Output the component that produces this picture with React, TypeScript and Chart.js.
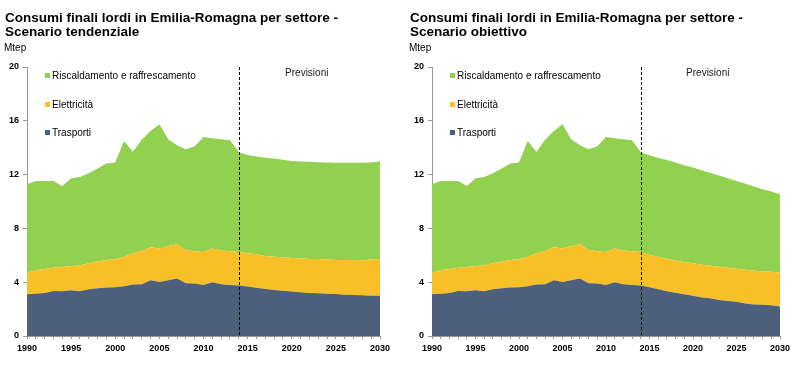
import React, { useEffect, useRef } from "react";
import { Chart, registerables } from "chart.js";

Chart.register(...registerables);

// ---------- DATA ----------
const histYears = [
  1990, 1991, 1992, 1993, 1994, 1995, 1996, 1997, 1998, 1999, 2000, 2001, 2002,
  2003, 2004, 2005, 2006, 2007, 2008, 2009, 2010, 2011, 2012, 2013, 2014,
];
const forecastYears = [
  2015, 2016, 2017, 2018, 2019, 2020, 2021, 2022, 2023, 2024, 2025, 2026, 2027,
  2028, 2029, 2030,
];

// Historical (Mtep)
const histTrasporti = [
  3.1, 3.15, 3.2, 3.35, 3.32, 3.4, 3.32, 3.47, 3.55, 3.6, 3.62, 3.7, 3.82, 3.85,
  4.14, 4.02, 4.14, 4.27, 3.93, 3.9, 3.8, 4.0, 3.85, 3.8, 3.75,
];
const histElettricita = [
  1.61, 1.73, 1.78, 1.73, 1.81, 1.8, 1.93, 1.93, 1.98, 2.05, 2.08, 2.2, 2.33,
  2.47, 2.46, 2.48, 2.56, 2.55, 2.47, 2.4, 2.45, 2.5, 2.5, 2.5, 2.5,
];
const histRiscaldamento = [
  6.57, 6.64, 6.54, 6.44, 6.02, 6.52, 6.57, 6.7, 6.92, 7.17, 7.2, 8.6, 7.55,
  8.28, 8.64, 9.24, 7.92, 7.36, 7.48, 7.8, 8.55, 8.2, 8.27, 8.25, 7.41,
];

// Scenario tendenziale (forecast)
const tendTrasporti = [
  3.68, 3.58, 3.5, 3.42, 3.37, 3.3, 3.25, 3.2, 3.18, 3.15, 3.12, 3.07, 3.05,
  3.03, 3.0, 3.0,
];
const tendElettricita = [
  2.47, 2.5, 2.45, 2.48, 2.48, 2.5, 2.53, 2.53, 2.55, 2.55, 2.53, 2.58, 2.6,
  2.6, 2.68, 2.72,
];
const tendRiscaldamento = [
  7.31, 7.26, 7.3, 7.29, 7.25, 7.21, 7.2, 7.22, 7.19, 7.2, 7.24, 7.23, 7.23,
  7.25, 7.22, 7.25,
];

// Scenario obiettivo (forecast)
const objTrasporti = [
  3.62, 3.47, 3.32, 3.22, 3.1, 3.0, 2.86, 2.8, 2.68, 2.6, 2.55, 2.42, 2.35,
  2.32, 2.28, 2.2,
];
const objElettricita = [
  2.4, 2.43, 2.43, 2.38, 2.4, 2.4, 2.44, 2.42, 2.47, 2.47, 2.45, 2.5, 2.52,
  2.48, 2.5, 2.5,
];
const objRiscaldamento = [
  7.41, 7.34, 7.33, 7.3, 7.2, 7.12, 7.03, 6.9, 6.78, 6.65, 6.52, 6.42, 6.25,
  6.12, 5.96, 5.83,
];

const seriesNames = ["Trasporti", "Elettricità", "Riscaldamento e raffrescamento"];
const seriesColors = ["#4C5F7B", "#F8C026", "#92D050"];
const xLabelYears = [1990, 1995, 2000, 2005, 2010, 2015, 2020, 2025, 2030];
const yTickValues = [0, 4, 8, 12, 16, 20];
const forecastStartYear = 2014;
const forecastLabel = "Previsioni";
const unitLabel = "Mtep";
const titleLine1 = "Consumi finali lordi in Emilia-Romagna per settore -";
const titleTendenziale = "Scenario tendenziale";
const titleObiettivo = "Scenario obiettivo";

// ---------- CHART ----------
const FONT = '"Liberation Sans", Arial, sans-serif';

const overlayPlugin = {
  id: "overlay",
  afterDatasetsDraw(chart: any) {
    const { ctx, chartArea, scales } = chart;
    const x = Math.round(scales.x.getPixelForValue(forecastStartYear)) + 0.5;
    ctx.save();
    ctx.strokeStyle = "#000";
    ctx.lineWidth = 1;
    ctx.setLineDash([3, 2]);
    ctx.beginPath();
    ctx.moveTo(x, chartArea.top);
    ctx.lineTo(x, chartArea.bottom);
    ctx.stroke();
    ctx.setLineDash([]);

    ctx.font = `10px ${FONT}`;
    ctx.fillStyle = "#1a1a1a";
    ctx.textAlign = "center";
    ctx.textBaseline = "middle";
    ctx.fillText(forecastLabel, (x + chartArea.right) / 2 - 3, chartArea.top + 6);

    // legend (reverse order: top item is last dataset)
    const offsets = [66, 38, 9];
    ctx.textAlign = "left";
    ctx.fillStyle = "#000";
    chart.data.datasets.forEach((ds: any, i: number) => {
      const cy = chartArea.top + offsets[i];
      const sx = chartArea.left + 18;
      ctx.fillStyle = ds.backgroundColor;
      ctx.fillRect(sx, cy - 3, 5, 5);
      ctx.fillStyle = "#000";
      ctx.fillText(ds.label, sx + 7, cy);
    });
    ctx.restore();
  },
};

function buildDatasets(fT: number[], fE: number[], fR: number[]) {
  const years = [...histYears, ...forecastYears];
  const T = [...histTrasporti, ...fT];
  const E = [...histElettricita, ...fE];
  const R = [...histRiscaldamento, ...fR];
  const vals = [T, E, R];
  return vals.map((v, i) => ({
    label: seriesNames[i],
    data: years.map((yr, k) => ({ x: yr, y: v[k] })),
    backgroundColor: seriesColors[i],
    borderColor: seriesColors[i],
    borderWidth: 0,
    pointRadius: 0,
    tension: 0,
    fill: i === 0 ? "origin" : "-1",
  }));
}

function ChartPanel(props: {
  left: number;
  plotLeft: number;
  subtitle: string;
  fT: number[];
  fE: number[];
  fR: number[];
}) {
  const ref = useRef<HTMLCanvasElement>(null);
  useEffect(() => {
    if (!ref.current) return;
    const tickFont = { family: FONT, size: 9, weight: "bold" as const };
    const chart = new Chart(ref.current, {
      type: "line",
      data: { datasets: buildDatasets(props.fT, props.fE, props.fR) as any },
      options: {
        animation: false,
        responsive: false,
        maintainAspectRatio: false,
        layout: { padding: { left: 0, right: 20, top: 67, bottom: 9 } },
        plugins: {
          legend: { display: false },
          tooltip: { enabled: false },
        },
        scales: {
          x: {
            type: "linear",
            min: 1990,
            max: 2030,
            ticks: {
              stepSize: 1,
              autoSkip: false,
              maxRotation: 0,
              padding: 4,
              color: "#000",
              font: tickFont,
              callback: (v: any) => (xLabelYears.includes(Number(v)) ? String(v) : ""),
            },
            grid: {
              drawOnChartArea: false,
              drawTicks: true,
              tickLength: 3,
              color: "#999",
            },
            border: { color: "#999" },
            afterFit: (s: any) => {
              s.height = 20;
            },
          },
          y: {
            stacked: true,
            min: 0,
            max: 20,
            afterBuildTicks: (s: any) => {
              s.ticks = yTickValues.map((v) => ({ value: v }));
            },
            ticks: {
              color: "#000",
              font: tickFont,
              padding: 4,
            },
            grid: {
              drawOnChartArea: false,
              drawTicks: true,
              tickLength: 4,
              color: "#999",
            },
            border: { color: "#999" },
            afterFit: (s: any) => {
              s.width = props.plotLeft;
            },
          },
        },
      },
      plugins: [overlayPlugin],
    });
    return () => chart.destroy();
  }, []);

  return (
    <div
      style={{
        position: "absolute",
        left: props.left,
        top: 0,
        width: 400,
        height: 365,
      }}
    >
      <canvas
        ref={ref}
        width={400}
        height={365}
        style={{ position: "absolute", left: 0, top: 0, display: "block" }}
      />
      <div
        style={{
          position: "absolute",
          left: props.left === 0 ? 5 : 10,
          top: 11,
          font: `bold 13.5px ${FONT}`,
          lineHeight: "14px",
          color: "#000",
          whiteSpace: "nowrap",
        }}
      >
        <div>{titleLine1}</div>
        <div>{props.subtitle}</div>
      </div>
      <div
        style={{
          position: "absolute",
          left: props.left === 0 ? 4 : 9,
          top: 42,
          font: `10px ${FONT}`,
          color: "#000",
        }}
      >
        {unitLabel}
      </div>
    </div>
  );
}

export default function App() {
  return (
    <div
      style={{
        position: "absolute",
        left: 0,
        top: 0,
        width: 800,
        height: 365,
        background: "#fff",
        overflow: "hidden",
      }}
    >
      <ChartPanel
        left={0}
        plotLeft={27}
        subtitle={titleTendenziale}
        fT={tendTrasporti}
        fE={tendElettricita}
        fR={tendRiscaldamento}
      />
      <ChartPanel
        left={400}
        plotLeft={32}
        subtitle={titleObiettivo}
        fT={objTrasporti}
        fE={objElettricita}
        fR={objRiscaldamento}
      />
    </div>
  );
}
